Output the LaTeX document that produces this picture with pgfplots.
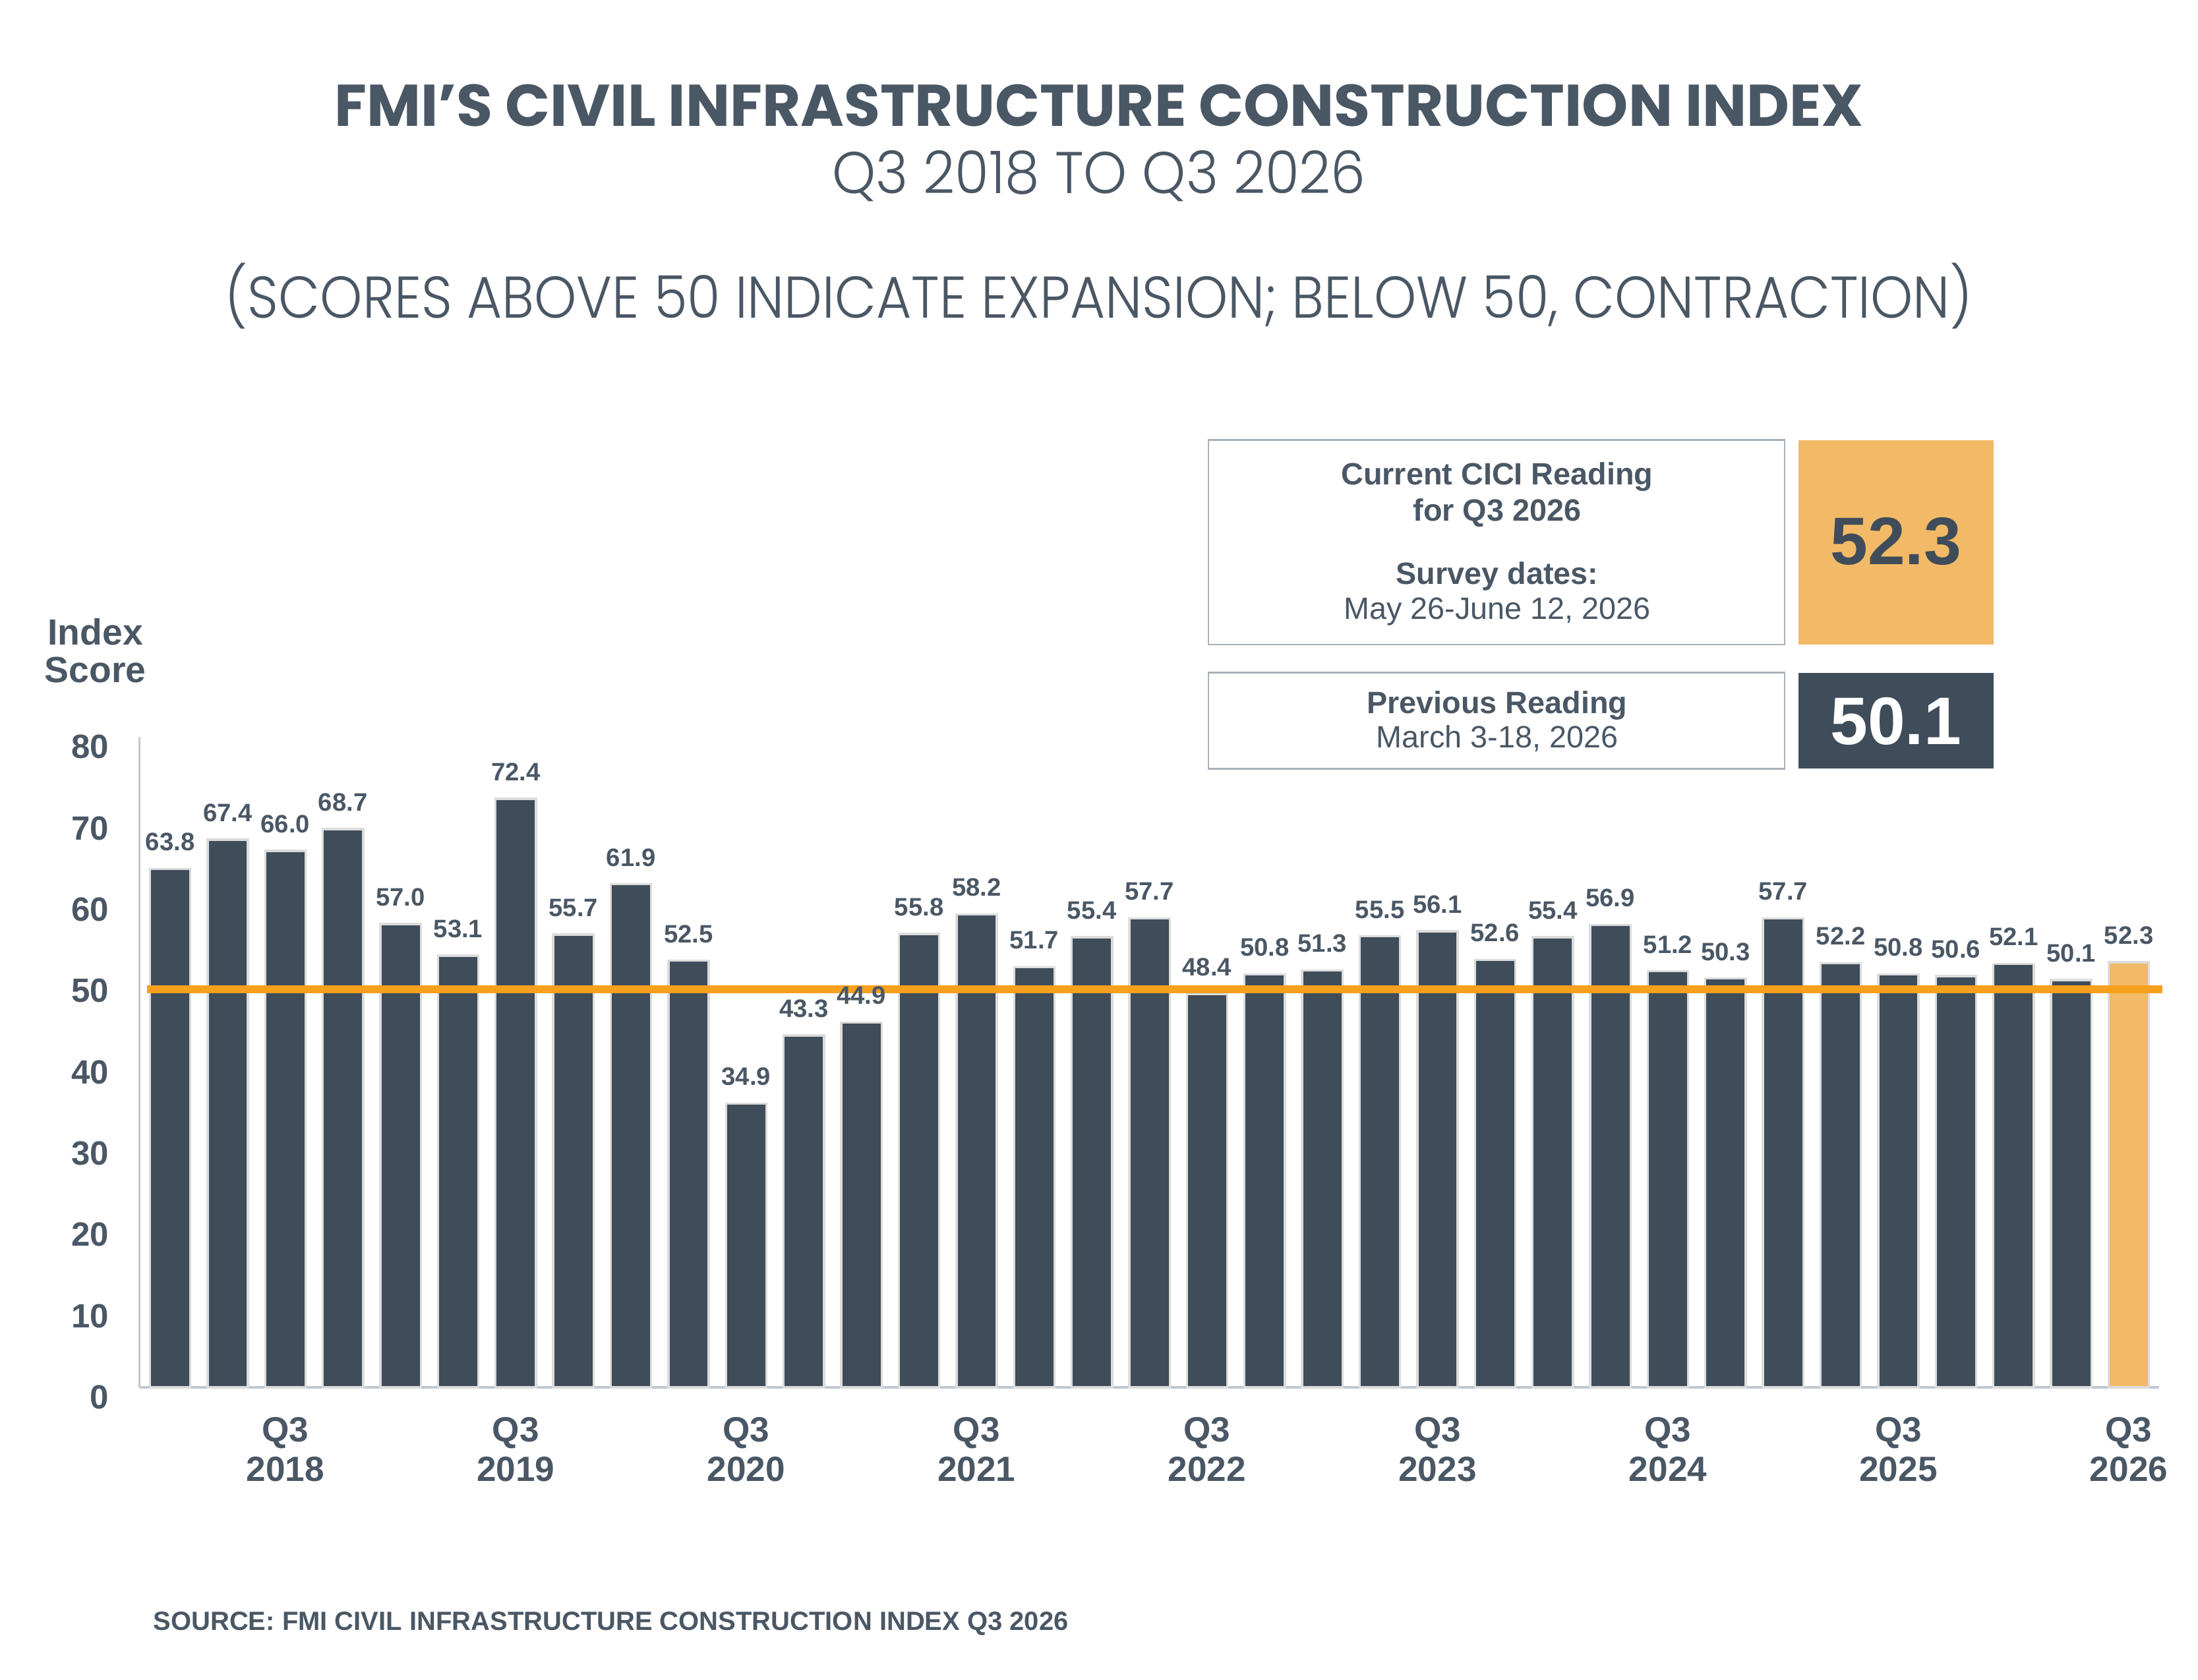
\documentclass[border=0pt]{standalone}
\usepackage{pgfplots}
\pgfplotsset{compat=1.18}
\usepackage{pgfplotstable}
\usepackage{fontspec}
\setmainfont{Liberation Sans}
\newfontfamily\pop{Poppins}
\newfontfamily\poplightA{Poppins Light}[FakeStretch=0.94]
\newfontfamily\poplightB{Poppins Light}[FakeStretch=0.915]
\definecolor{slate}{HTML}{3F4C5A}
\definecolor{txt}{HTML}{4A5765}
\definecolor{orgline}{HTML}{F7A01E}
\definecolor{orgbar}{HTML}{F2BA66}
\definecolor{barborder}{HTML}{DCDCDC}
\definecolor{axisgray}{HTML}{C0C8D0}
\definecolor{boxborder}{HTML}{A8B0B8}

\pgfplotstableread{
x y
0 63.8
1 67.4
2 66.0
3 68.7
4 57.0
5 53.1
6 72.4
7 55.7
8 61.9
9 52.5
10 34.9
11 43.3
12 44.9
13 55.8
14 58.2
15 51.7
16 55.4
17 57.7
18 48.4
19 50.8
20 51.3
21 55.5
22 56.1
23 52.6
24 55.4
25 56.9
26 51.2
27 50.3
28 57.7
29 52.2
30 50.8
31 50.6
32 52.1
33 50.1
}\pastdata
\pgfplotstableread{
x y
34 52.3
}\currentdata

\begin{document}
\begin{tikzpicture}
\path[use as bounding box] (0pt,0pt) rectangle (784pt,-599.2pt);
\begin{scope}[x=0.5pt,y=-0.5pt]
% titles
\node[anchor=base, inner sep=0pt, text=txt, font=\pop\bfseries\fontsize{21}{24}\selectfont] at (784,90) {FMI’S CIVIL INFRASTRUCTURE CONSTRUCTION INDEX};
\node[anchor=base, inner sep=0pt, text=txt, font=\poplightA\fontsize{21}{24}\selectfont] at (784,138) {Q3 2018 TO Q3 2026};
\node[anchor=base, inner sep=0pt, text=txt, font=\poplightB\fontsize{21}{24}\selectfont] at (784,227) {(SCORES ABOVE 50 INDICATE EXPANSION; BELOW 50, CONTRACTION)};
% y axis title
\node[anchor=base, inner sep=0pt, text=txt, font=\bfseries\fontsize{13}{14}\selectfont] at (68,460) {Index};
\node[anchor=base, inner sep=0pt, text=txt, font=\bfseries\fontsize{13}{14}\selectfont] at (68,487) {Score};
% info boxes
\draw[boxborder, line width=0.6pt, fill=white] (862,314) rectangle (1273,460);
\fill[orgbar] (1283,314) rectangle (1422,460);
\draw[boxborder, line width=0.6pt, fill=white] (862,480) rectangle (1273,548.5);
\fill[slate] (1283,480) rectangle (1422,548.5);
\node[anchor=base, inner sep=0pt, text=txt, font=\bfseries\fontsize{11}{12}\selectfont] at (1068,346) {Current CICI Reading};
\node[anchor=base, inner sep=0pt, text=txt, font=\bfseries\fontsize{11}{12}\selectfont] at (1068,371.6) {for Q3 2026};
\node[anchor=base, inner sep=0pt, text=txt, font=\bfseries\fontsize{11}{12}\selectfont] at (1068,417) {Survey dates:};
\node[anchor=base, inner sep=0pt, text=txt, font=\fontsize{11}{12}\selectfont] at (1068,441.8) {May 26-June 12, 2026};
\node[anchor=base, inner sep=0pt, text=slate, font=\bfseries\fontsize{24}{26}\selectfont] at (1352.5,402.7) {52.3};
\node[anchor=base, inner sep=0pt, text=txt, font=\bfseries\fontsize{11}{12}\selectfont] at (1068,509) {Previous Reading};
\node[anchor=base, inner sep=0pt, text=txt, font=\fontsize{11}{12}\selectfont] at (1068,533.7) {March 3-18, 2026};
\node[anchor=base, inner sep=0pt, text=white, font=\bfseries\fontsize{24}{26}\selectfont] at (1352.5,531) {50.1};
% source
\node[anchor=base west, inner sep=0pt, text=txt, font=\bfseries\fontsize{9.4}{10}\selectfont] at (109,1163.5) {SOURCE: FMI CIVIL INFRASTRUCTURE CONSTRUCTION INDEX Q3 2026};
\end{scope}

\begin{axis}[
  at={(49.8pt,-495pt)}, anchor=south west,
  scale only axis, width=720.2pt, height=232pt,
  xmin=-0.53, xmax=34.52, ymin=0, ymax=80,
  axis x line*=bottom, axis y line*=left,
  axis line style={-, draw=axisgray, line width=0.8pt},
  major tick length=0pt,
  ytick={0,10,...,80},
  xtick={2,6,10,14,18,22,26,30,34},
  xticklabels={{Q3\\2018},{Q3\\2019},{Q3\\2020},{Q3\\2021},{Q3\\2022},{Q3\\2023},{Q3\\2024},{Q3\\2025},{Q3\\2026}},
  xticklabel style={align=center, font=\bfseries\fontsize{12.5}{14}\selectfont, text=txt, inner sep=0pt, yshift=-10.5pt},
  yticklabel style={font=\bfseries\fontsize{12}{14}\selectfont, text=txt, inner sep=0pt, xshift=-10.8pt, yshift=-3.5pt},
  /pgf/number format/assume math mode=true,
  clip=false,
]
\addplot[ybar, bar width=14.4pt, bar shift=0pt, fill=slate, draw=barborder, line width=0.8pt,
  nodes near coords,
  every node near coord/.append style={font=\bfseries\fontsize{9}{10}\selectfont, text=txt, inner sep=0pt, anchor=south, yshift=6pt, /pgf/number format/fixed, /pgf/number format/fixed zerofill, /pgf/number format/precision=1, /pgf/number format/assume math mode=true}
] table[x=x, y=y] {\pastdata};
\addplot[ybar, bar width=14.4pt, bar shift=0pt, fill=orgbar, draw=barborder, line width=0.8pt,
  nodes near coords,
  every node near coord/.append style={font=\bfseries\fontsize{9}{10}\selectfont, text=txt, inner sep=0pt, anchor=south, yshift=6pt, /pgf/number format/fixed, /pgf/number format/fixed zerofill, /pgf/number format/precision=1, /pgf/number format/assume math mode=true}
] table[x=x, y=y] {\currentdata};
\addplot[sharp plot, orgline, line width=2.8pt, no markers, yshift=-3pt] coordinates {(-0.4,50) (34.58,50)};
\end{axis}
\end{tikzpicture}
\end{document}
